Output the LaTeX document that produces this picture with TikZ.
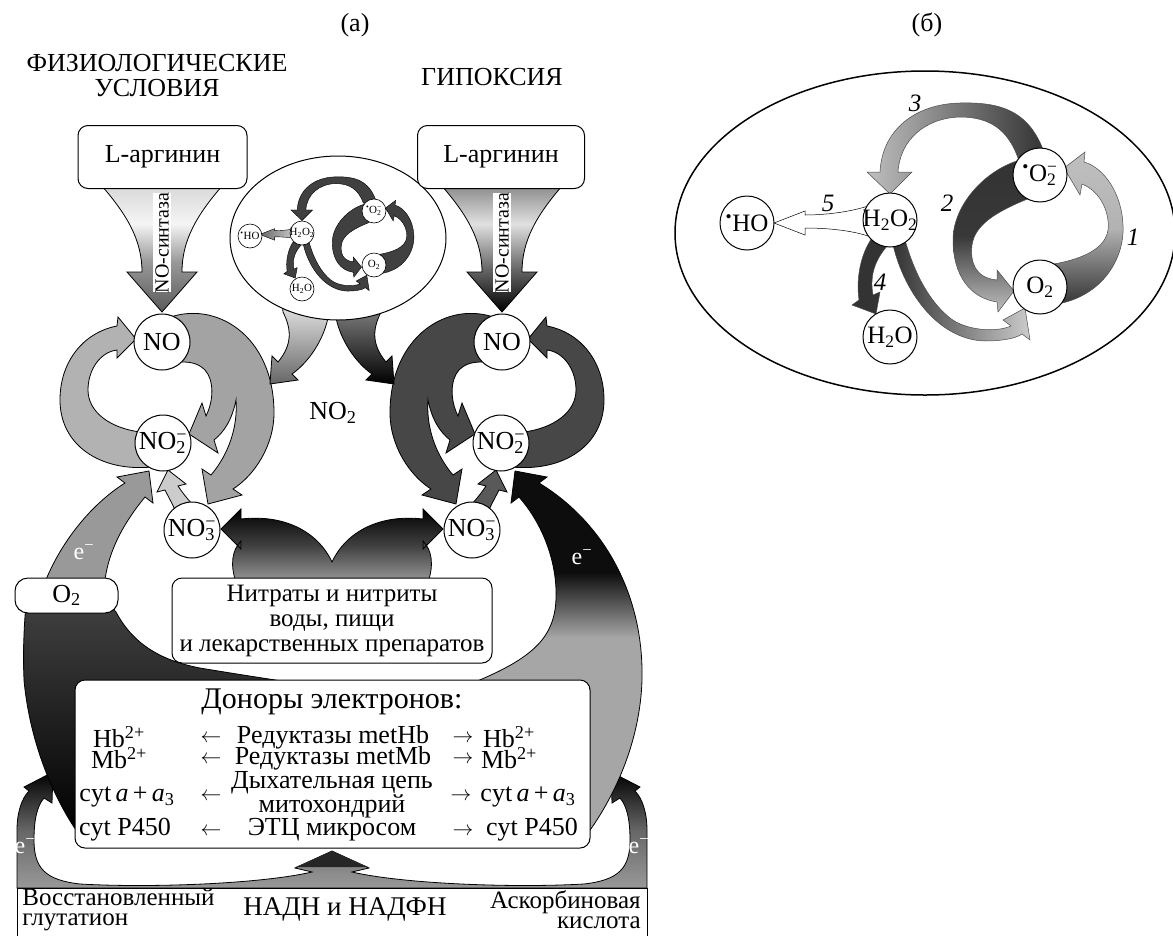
\documentclass[tikz,border=0pt]{standalone}
\usepackage{fontspec}
\setmainfont{Liberation Serif}
\usepackage{tikz}
\usepackage{xcolor}
\usetikzlibrary{shapes.geometric}

\newcommand{\sbsp}[2]{\rlap{\textsubscript{#1}}\textsuperscript{#2}}
\newcommand{\radic}{\textsuperscript{\textbullet}}
\newcommand{\ctr}[1]{\makebox[0pt]{#1}}

\pgfdeclareverticalshading{funleft}{100bp}{color(0bp)=(black!65); color(25bp)=(black!65); color(45bp)=(black!40); color(60bp)=(black!4); color(75bp)=(black!15); color(100bp)=(black!15)}
\pgfdeclareverticalshading{funright}{100bp}{color(0bp)=(black); color(25bp)=(black); color(42bp)=(black!60); color(60bp)=(black!12); color(75bp)=(black!45); color(100bp)=(black!45)}
\pgfdeclareverticalshading{bandright}{100bp}{color(0bp)=(black!35); color(52bp)=(black!35); color(61bp)=(black!95); color(100bp)=(black!95)}

\begin{document}
\begin{tikzpicture}[x=1pt, y=-1pt, line width=0.8pt,
    big/.style={font=\fontsize{26}{25}\selectfont},
    txt/.style={font=\fontsize{25}{25}\selectfont},
    row/.style={font=\fontsize{26}{20}\selectfont, inner sep=0pt},
    arr/.style={font=\fontsize{20}{20}\selectfont, inner sep=0pt},
    mol/.style={circle, draw, fill=white, minimum size=56pt, inner sep=0pt, line width=1pt, font=\fontsize{26}{26}\selectfont},
    molB/.style={mol, minimum size=54pt, font=\fontsize{25}{25}\selectfont},
    molM/.style={circle, draw, fill=white, minimum size=24pt, inner sep=0pt, line width=0.6pt, font=\fontsize{11}{11}\selectfont},
    rbox/.style={draw, fill=white, rounded corners=10pt, line width=1pt},
    elec/.style={text=white, font=\fontsize{24}{24}\selectfont},
    lbl/.style={font=\fontsize{25}{25}\selectfont\itshape}]
    \useasboundingbox (0,0) rectangle (1173,935);

    % loop of NO, NO2-, NO3- (left side; right side is mirrored)
    \def\noloop#1#2#3{%
    \path[draw, #1] (140,432) .. controls (110,428) and (88,412) .. (88,390) .. controls (88,370) and (100,352) .. (117,350) -- (117,358) -- (136,339) -- (118,317) -- (117,326) .. controls (85,332) and (60,360) .. (60,400) .. controls (60,445) and (100,472) .. (152,467) -- cycle;
    \path[draw, #2] (168,318) .. controls (215,300) and (274,335) .. (274,413) .. controls (274,445) and (255,475) .. (233,489) -- (242,495) -- (208,504) -- (202,469) -- (211,475) .. controls (228,455) and (238,428) .. (236,400) .. controls (232,420) and (224,432) .. (214,440) -- (218,453) -- (189,434) -- (202,403) -- (206,416) .. controls (214,400) and (214,380) .. (205,370) .. controls (198,363) and (190,362) .. (182,362) -- cycle;
    \path[draw, #3] (176,512) .. controls (172,503) and (168,496) .. (165,490) -- (157,492) -- (168,470) -- (186,484) -- (178,486) .. controls (182,492) and (188,500) .. (196,508) -- cycle;
    }
    \def\funnel#1{%
    \path[draw, shade, shading=#1] (102,186) .. controls (127,215) and (142,240) .. (142,272) -- (127,272) -- (162,312) -- (197,272) -- (182,272) .. controls (182,240) and (197,215) .. (222,186) -- cycle;
    \fill[white] (153,193) rectangle (171,292);
    }
    \def\ellarrow#1{%
    \path[draw, #1] (282,300) -- (332,308) -- (328,318) .. controls (322,345) and (305,365) .. (292,374) -- (298,380) -- (270,384) -- (272,356) -- (278,362) .. controls (292,345) and (292,330) .. (283,312) -- cycle;
    }
    % cycle of oxygen species, origin at H2O2
    \def\oxpaths#1{%
    \path[draw, oxA] (160,85) .. controls (210,80) and (235,40) .. (233,5) .. controls (232,-25) and (215,-52) .. (194,-58) -- (195,-68) -- (174,-52) -- (190,-25) -- (192,-36) .. controls (212,-28) and (220,-5) .. (218,10) .. controls (215,30) and (190,40) .. (158,45) -- cycle;
    \path[draw, oxB] (130,-60) .. controls (95,-50) and (63,-15) .. (63,20) .. controls (63,55) and (80,78) .. (107,82) -- (108,92) -- (124,71) -- (107,50) -- (107,60) .. controls (85,58) and (80,42) .. (82,25) .. controls (85,5) and (105,-8) .. (140,-22) -- cycle;
    \path[draw, oxC] (155,-65) .. controls (140,-110) and (110,-118) .. (70,-117) .. controls (25,-116) and (-8,-90) .. (-10,-48) -- (-23,-48) -- (0,-26) -- (22,-48) -- (8,-48) .. controls (10,-80) and (35,-102) .. (70,-103) .. controls (100,-103) and (118,-90) .. (128,-62) -- cycle;
    \path[draw, oxF] (3,25) .. controls (15,75) and (50,120) .. (95,121) .. controls (110,121) and (125,119) .. (132,114) -- (140,120) -- (135,88) -- (113,100) -- (121,106) .. controls (105,113) and (75,110) .. (60,98) .. controls (40,82) and (25,55) .. (15,20) -- cycle;
    \path[draw, oxD] (-18,18) .. controls (-30,35) and (-34,60) .. (-31,80) -- (-38,85) -- (-14,94) -- (-10,72) -- (-17,75) .. controls (-20,58) and (-17,42) .. (-2,25) -- cycle;
    \begin{scope}[shift={(#1,0)}]
    \path[draw, oxE] (-22,-14) .. controls (-40,-8) and (-65,-5) .. (-85,-5) -- (-85,-9) -- (-116,3) -- (-85,15) -- (-85,8) .. controls (-65,8) and (-40,10) .. (-22,16) -- cycle;
    \end{scope}
    }

    % fan at the bottom with the small arrows
    \path[draw, top color=black, bottom color=black!40, middle color=black!60] (17,888) -- (17,830) .. controls (17,812) and (22,798) .. (29,791) -- (24,787) -- (53,772) -- (52,803) -- (44,798) .. controls (37,806) and (34,820) .. (34,840) .. controls (34,868) and (45,880) .. (80,884) .. controls (150,888) and (260,884) .. (312,872) -- (295,868) -- (332,851) -- (369,868) -- (352,872) .. controls (404,884) and (514,888) .. (584,884) .. controls (619,880) and (630,868) .. (630,840) .. controls (630,820) and (627,806) .. (620,798) -- (612,803) -- (611,772) -- (640,787) -- (635,791) .. controls (642,798) and (647,812) .. (647,830) -- (647,888) -- cycle;
    \fill[black!85] (296,867) -- (332,851) -- (368,867) -- cycle;

    % big bands
    \path[draw, top color=black!75, bottom color=black] (26,605) -- (110,605) -- (116,612) .. controls (132,642) and (158,660) .. (200,668) .. controls (230,673) and (262,678) .. (295,683) -- (295,760) -- (78,833) .. controls (55,800) and (30,745) .. (24,680) .. controls (23,650) and (24,625) .. (26,605) -- cycle;
    \path[draw, fill=black!40] (42,590) .. controls (58,545) and (90,505) .. (125,483) -- (117,477) -- (149,471) -- (153,503) -- (145,497) .. controls (122,525) and (106,555) .. (104,590) -- cycle;
    \path[draw, shade, shading=bandright] (539,483) -- (547,477) -- (515,471) -- (511,503) -- (519,497) .. controls (548,530) and (560,575) .. (555,610) .. controls (550,640) and (530,660) .. (470,684) -- (400,760) -- (588,833) .. controls (612,800) and (640,745) .. (642,680) .. controls (644,590) and (600,520) .. (539,483) -- cycle;

    % nitrates to NO3-
    \path[draw, top color=black, bottom color=black!40, middle color=black!75] (236,582) .. controls (230,565) and (232,550) .. (241,541) -- (241,549) -- (221,529) -- (241,509) -- (241,519) .. controls (285,514) and (318,532) .. (332,562) .. controls (346,532) and (379,514) .. (423,519) -- (423,509) -- (443,529) -- (423,549) -- (423,541) .. controls (432,550) and (434,565) .. (428,582) -- cycle;

    % loops, funnels, arrows from the ellipse
    \noloop{fill=black!30}{fill=black!36}{fill=black!20}
    \funnel{funleft}
    \ellarrow{top color=black!8, bottom color=black!60}
    \begin{scope}[shift={(664,0)}, xscale=-1]
        \noloop{fill=black!72}{fill=black!72}{fill=black!65}
        \funnel{funright}
        \ellarrow{top color=black!45, bottom color=black}
    \end{scope}

    % small copy of (b)
    \node[draw, ellipse, fill=white, minimum width=216pt, minimum height=164pt, line width=1pt] (mini) at (338,238) {};
    \begin{scope}[shift={(302,233)}, scale=0.48, line width=0.4pt,
        oxA/.style={fill=black!75}, oxB/.style={fill=black!75}, oxC/.style={fill=black!75},
        oxD/.style={fill=black!75}, oxF/.style={fill=black!75},
        oxE/.style={left color=black!60, right color=black!8}]
        \oxpaths{28}
    \end{scope}
    \node[molM] (hoM) at (250,236) {\ctr{\radic HO}};
    \node[molM] (h2o2M) at (302,233) {\ctr{H\textsubscript{2}O\textsubscript{2}}};
    \node[molM] (o2rM) at (374,211) {\ctr{\radic O\sbsp{2}{−}}};
    \node[molM] (o2M) at (374,265) {\ctr{O\textsubscript{2}}};
    \node[molM] (h2oM) at (302,289) {\ctr{H\textsubscript{2}O}};

    % boxes
    \node[rbox, big, minimum width=169pt, minimum height=63pt] (argL) at (162.5,157) {L-аргинин};
    \node[rbox, big, minimum width=167pt, minimum height=63pt] (argR) at (501,157) {L-аргинин};
    \node[rbox, big, rounded corners=13pt, minimum width=103pt, minimum height=35pt, inner sep=0pt] (oxbox) at (66.5,595.5) {O\textsubscript{2}};
    \node[rbox, txt, align=center, minimum width=320pt, minimum height=85pt, inner sep=0pt] (nitr) at (332,620.5) {Нитраты и нитриты\\воды, пищи\\и лекарственных препаратов};
    \node[rbox, minimum width=515pt, minimum height=168pt] (donor) at (332.5,764) {};
    \draw[line width=1pt] (17,945) -- (17,888) -- (647,888) -- (647,945);

    % molecules
    \node[mol] (noL) at (162,342) {NO};
    \node[mol] (no2L) at (163,443) {\ctr{NO\sbsp{2}{−}}};
    \node[mol] (no3L) at (192,530) {\ctr{NO\sbsp{3}{−}}};
    \node[mol] (noR) at (502,342) {NO};
    \node[mol] (no2R) at (501,443) {\ctr{NO\sbsp{2}{−}}};
    \node[mol] (no3R) at (472,530) {\ctr{NO\sbsp{3}{−}}};
    \node[big] (gas) at (333,413) {NO\textsubscript{2}};

    % titles
    \node[big] (ta) at (355,25) {(а)};
    \node[big] (tb) at (927,25) {(б)};
    \node[big, align=center] (phys) at (157,76) {ФИЗИОЛОГИЧЕСКИЕ\\УСЛОВИЯ};
    \node[big] (hyp) at (492,77) {ГИПОКСИЯ};
    \node[rotate=90, font=\fontsize{20}{20}\selectfont, inner sep=0pt] (synL) at (162,243) {NO-синтаза};
    \node[rotate=90, font=\fontsize{20}{20}\selectfont, inner sep=0pt] (synR) at (502,243) {NO-синтаза};

    % electrons
    \node[elec] (eL) at (84,552) {e\textsuperscript{−}};
    \node[elec] (eR) at (582,557) {e\textsuperscript{−}};
    \node[elec] (eLs) at (25,846) {e\textsuperscript{−}};
    \node[elec] (eRs) at (639,846) {e\textsuperscript{−}};

    % donors
    \node[font=\fontsize{30}{30}\selectfont] (dhead) at (332,702) {Доноры электронов:};
    \node[row] (r1l) at (119,737) {Hb\textsuperscript{2+}};
    \node[arr] (r1a) at (211,739) {$\leftarrow$};
    \node[row] (r1m) at (333,737) {Редуктазы metHb};
    \node[arr] (r1b) at (463,739) {$\rightarrow$};
    \node[row] (r1r) at (509,737) {Hb\textsuperscript{2+}};
    \node[row] (r2l) at (119,758) {Mb\textsuperscript{2+}};
    \node[arr] (r2a) at (211,760) {$\leftarrow$};
    \node[row] (r2m) at (333,758) {Редуктазы metMb};
    \node[arr] (r2b) at (463,760) {$\rightarrow$};
    \node[row] (r2r) at (509,758) {Mb\textsuperscript{2+}};
    \node[row] (r3l) at (127,797) {cyt\,\textit{a}\,+\,\textit{a}\textsubscript{3}};
    \node[arr] (r3a) at (211,797) {$\leftarrow$};
    \node[row, align=center] (r3m) at (332,795) {Дыхательная цепь\\митохондрий};
    \node[arr] (r3b) at (461,797) {$\rightarrow$};
    \node[row] (r3r) at (528,797) {cyt\,\textit{a}\,+\,\textit{a}\textsubscript{3}};
    \node[row] (r4l) at (125,830) {cyt P450};
    \node[arr] (r4a) at (211,832) {$\leftarrow$};
    \node[row] (r4m) at (332,830) {ЭТЦ микросом};
    \node[arr] (r4b) at (463,832) {$\rightarrow$};
    \node[row] (r4r) at (532,830) {cyt P450};

    % sources at the bottom
    \node[font=\fontsize{25}{20}\selectfont, align=left, anchor=west, inner sep=0pt] (glut) at (22,910) {Восстановленный\\глутатион};
    \node[font=\fontsize{27}{27}\selectfont] (nadh) at (345,909) {НАДН и НАДФН};
    \node[font=\fontsize{25}{20}\selectfont, align=right, anchor=east, inner sep=0pt] (asc) at (641,910) {Аскорбиновая\\кислота};

    % panel (b)
    \node[draw, ellipse, minimum width=500pt, minimum height=324pt, line width=1.5pt] (ovalB) at (925,233) {};
    \begin{scope}[shift={(890,220)}, line width=0.5pt,
        oxA/.style={draw=black!70, top color=black!25, bottom color=black!80, middle color=black!30},
        oxB/.style={draw=black!70, top color=black!80, bottom color=black!25, middle color=black!78},
        oxC/.style={draw=black!70, left color=black!25, right color=black!80},
        oxD/.style={draw=black!70, fill=black!80},
        oxF/.style={draw=black!70, left color=black!80, right color=black!20},
        oxE/.style={draw=black, fill=white}]
        \oxpaths{0}
    \end{scope}
    \node[molB] (hoB) at (747,223) {\ctr{\radic HO}};
    \node[molB] (h2o2B) at (890,220) {\ctr{H\textsubscript{2}O\textsubscript{2}}};
    \node[molB] (o2rB) at (1040,175) {\ctr{\radic O\sbsp{2}{−}}};
    \node[molB] (o2B) at (1040,287) {\ctr{O\textsubscript{2}}};
    \node[molB] (h2oB) at (890,337) {\ctr{H\textsubscript{2}O}};
    \node[lbl] (n1) at (1133,237) {1};
    \node[lbl] (n2) at (947,203) {2};
    \node[lbl] (n3) at (915,103) {3};
    \node[lbl] (n4) at (880,282) {4};
    \node[lbl] (n5) at (828,203) {5};
\end{tikzpicture}
\end{document}
